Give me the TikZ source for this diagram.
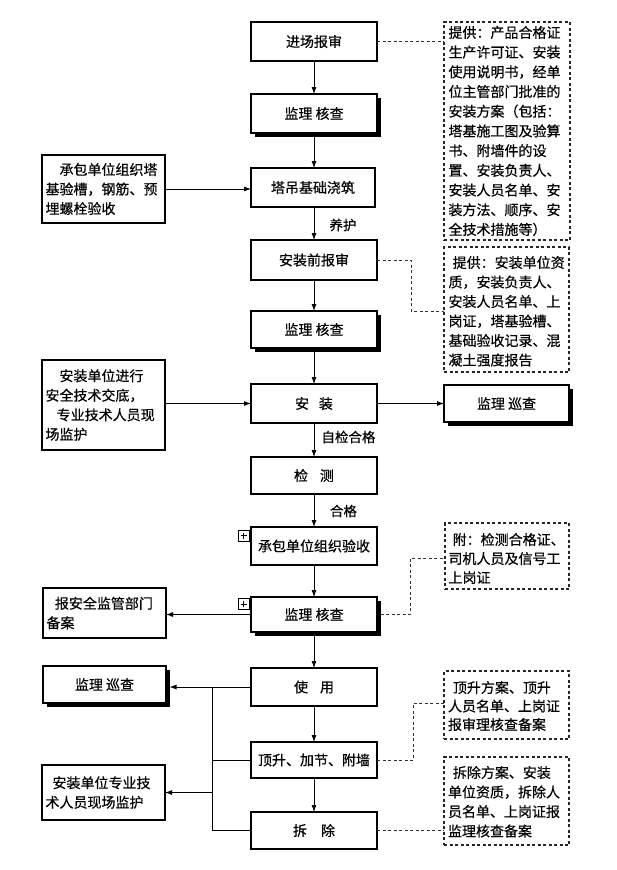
\documentclass[tikz,border=0pt]{standalone}
\usepackage{fontspec}
\newfontfamily\cjk[FakeBold=0.4]{Noto Sans CJK SC}
\usetikzlibrary{arrows.meta,shadows}
\begin{document}
\begin{tikzpicture}[x=1pt,y=-1pt,
 every node/.style={font=\cjk\fontsize{14}{19.5}\selectfont, inner sep=0pt, outer sep=0pt},
 mbox/.style={draw=black, line width=1.6pt, fill=white, minimum width=126pt},
 sbox/.style={mbox, general shadow={fill=black, shadow xshift=3.5pt, shadow yshift=-3.5pt}},
 dbox/.style={draw=black!85, dash pattern=on 3pt off 2.5pt, line width=1.1pt, minimum width=125pt},
 dtx/.style={align=left, anchor=north west, text width=120pt},
 ltx/.style={align=left, text width=116pt},
 arr/.style={-{Latex[length=7pt,width=5pt]}, line width=0.8pt},
 dl/.style={draw=black!80, dash pattern=on 3pt off 2.5pt, line width=1pt},
 lab/.style={font=\cjk\fontsize{13.5}{15}\selectfont},
 icon/.style={draw=black, line width=0.6pt, fill=white, minimum width=11pt, minimum height=11pt}
]
\useasboundingbox (0,0) rectangle (616,870);

% main column
\node[mbox, minimum height=39pt] (A1) at (314,41.5) {进场报审};
\node[sbox, minimum height=39pt] (A2) at (314,113.5) {监理 核查};
\node[mbox, minimum height=39pt, minimum width=124pt] (A3) at (313,187.5) {塔吊基础浇筑};
\node[mbox, minimum height=40pt] (A4) at (314,260) {安装前报审};
\node[sbox, minimum height=37pt] (A5) at (314,329.5) {监理 核查};
\node[mbox, minimum height=39pt] (A6) at (314,403.5) {安\hspace{0.7em}装};
\node[mbox, minimum height=37pt] (A7) at (314,475.5) {检\hspace{0.85em}测};
\node[mbox, minimum height=38pt] (A8) at (314,546) {承包单位组织验收};
\node[sbox, minimum height=35pt] (A9) at (314,614.5) {监理 核查};
\node[mbox, minimum height=38pt] (A10) at (314,687) {使\hspace{0.85em}用};
\node[mbox, minimum height=36pt] (A11) at (314,760) {顶升、加节、附墙};
\node[mbox, minimum height=37pt] (A12) at (314,830.5) {拆\hspace{1em}除};

% icons
\node[icon] (ic1) at (243.5,535.5) {};
\node[icon] (ic2) at (243.5,604) {};
\foreach \ic in {ic1,ic2}{
  \draw[line width=0.5pt] ([xshift=-3pt]\ic.center) -- ([xshift=3pt]\ic.center);
  \draw[line width=0.5pt] ([yshift=-3pt]\ic.center) -- ([yshift=3pt]\ic.center);
}

% left boxes
\node[mbox, minimum width=123pt, minimum height=68pt] (L1) at (103.5,189) {};
\node[ltx] (L1t) at (L1.center) {\hspace*{1em}承包单位组织塔\\基验槽，钢筋、预\\埋螺栓验收};
\node[mbox, minimum width=123pt, minimum height=90pt] (L2) at (103.5,405) {};
\node[ltx] (L2t) at (L2.center) {\hspace*{1em}安装单位进行\\安全技术交底，\\\hspace*{0.8em}专业技术人员现\\场监护};
\node[mbox, minimum width=123pt, minimum height=50pt] (L3) at (104.5,613) {};
\node[ltx] (L3t) at (L3.center) {\hspace*{0.6em}报安全监管部门\\备案};
\node[sbox, minimum width=123pt, minimum height=37pt] (L4) at (104.5,684.5) {监理 巡查};
\node[mbox, minimum width=123pt, minimum height=55pt] (L5) at (103.5,792.5) {};
\node[ltx] (L5t) at (L5.center) {\hspace*{0.5em}安装单位专业技\\术人员现场监护};

% right box
\node[sbox, minimum width=125pt, minimum height=37pt] (R1) at (506.5,403.5) {监理 巡查};

% dashed boxes
\node[dbox, minimum width=126pt, minimum height=218pt] (D1) at (507,131) {};
\node[dtx, font=\cjk\fontsize{14}{19.7}\selectfont] (D1t) at (448.5,26) {提供：产品合格证\\生产许可证、安装\\使用说明书，经单\\位主管部门批准的\\安装方案（包括：\\塔基施工图及验算\\书、附墙件的设\\置、安装负责人、\\安装人员名单、安\\装方法、顺序、安\\全技术措施等）};
\node[dbox, minimum height=125pt] (D2) at (506.5,309.5) {};
\node[dtx] (D2t) at (448.5,256) {\hspace*{0.3em}提供：安装单位资\\质，安装负责人、\\安装人员名单、上\\岗证，塔基验槽、\\基础验收记录、混\\凝土强度报告};
\node[dbox, minimum width=124pt, minimum height=66pt] (D3) at (507,556) {};
\node[dtx, font=\cjk\fontsize{14}{19}\selectfont] (D3t) at (448.5,533) {\hspace*{0.3em}附：检测合格证、\\司机人员及信号工\\上岗证};
\node[dbox, minimum height=68pt] (D4) at (506.5,705) {};
\node[dtx, font=\cjk\fontsize{14}{18.5}\selectfont] (D4t) at (448,681) {\hspace*{0.35em}顶升方案、顶升\\人员名单、上岗证\\报审理核查备案};
\node[dbox, minimum height=88pt] (D5) at (506.5,801) {};
\node[dtx] (D5t) at (448,766) {\hspace*{0.35em}拆除方案、安装\\单位资质，拆除人\\员名单、上岗证报\\监理核查备案};

% labels
\node[lab] (y1) at (343,225) {养护};
\node[lab] (y2) at (348.5,437) {自检合格};
\node[lab] (y3) at (343.5,511) {合格};

% main arrows
\draw[arr] (A1) -- (A2);
\draw[arr] (A2) -- (A3.north -| A2.south);
\draw[arr] (A3.south -| A2.south) -- (A4);
\draw[arr] (A4) -- (A5);
\draw[arr] (A5) -- (A6);
\draw[arr] (A6) -- (A7);
\draw[arr] (A7) -- (A8);
\draw[arr] (A8) -- (A9);
\draw[arr] (A9) -- (A10);
\draw[arr] (A10) -- (A11);
\draw[arr] (A11) -- (A12);

% side arrows
\draw[arr] (L1.east) -- (L1.east -| A3.west);
\draw[arr] (A6.west -| L2.east) -- (A6.west);
\draw[arr] (A6.east) -- (R1.west);
\draw[arr] (A9.west) -- (A9.west -| L3.east);

% bus
\coordinate (l4e) at ([xshift=3.5pt]L4.east);
\coordinate (bt) at (212,687);
\coordinate (bb) at (212,830.5);
\coordinate (bm) at (212,792.5);
\draw[line width=0.8pt] (bt) -- (bb);
\draw[arr] (A10.west) -- (l4e |- A10.west);
\draw[line width=0.8pt] (A11.west) -- (A11.west -| bt);
\draw[line width=0.8pt] (A12.west) -- (bb);
\draw[arr] (bm) -- (bm -| L5.east);

% dashed connectors
\coordinate (k1) at (411,311);
\coordinate (k2) at (410,558);
\coordinate (k3) at (413,703);
\coordinate (a9e) at ([xshift=3.5pt]A9.east);
\draw[dl] (A1.east) -- (A1.east -| D1.west);
\draw[dl] (A4.east) -| (k1) -- (k1 -| D2.west);
\draw[dl] (a9e) -| (k2) -- (k2 -| D3.west);
\draw[dl] (A11.east) -| (k3) -- (k3 -| D4.west);
\draw[dl] (A12.east) -- (A12.east -| D5.west);
\end{tikzpicture}
\end{document}
